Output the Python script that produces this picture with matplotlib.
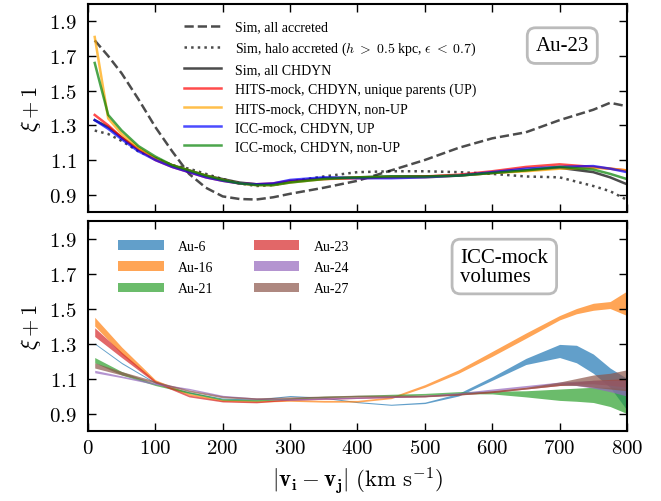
import matplotlib
matplotlib.use("Agg")
import matplotlib.pyplot as plt
from matplotlib.ticker import FuncFormatter
import numpy as np

plt.rcParams['font.family'] = ['Liberation Serif', 'DejaVu Serif']
plt.rcParams['mathtext.fontset'] = 'cm'

# ---- top panel: Au-23 correlation curves ----
x_top = [10, 30, 50, 75, 100, 125, 150, 175, 200, 225, 250, 275, 300,
         350, 400, 450, 500, 550, 600, 650, 700, 750, 775, 800]

sim_acc = [1.79, 1.70, 1.60, 1.45, 1.29, 1.15, 1.02, 0.94, 0.89, 0.875, 0.872, 0.885, 0.905,
           0.94, 0.98, 1.04, 1.10, 1.17, 1.225, 1.26, 1.33, 1.39, 1.43, 1.41]
sim_halo = [1.27, 1.25, 1.21, 1.15, 1.11, 1.07, 1.05, 1.02, 0.99, 0.965, 0.95, 0.955, 0.975,
            1.005, 1.03, 1.035, 1.035, 1.03, 1.02, 1.005, 1.0, 0.95, 0.92, 0.87]
sim_chdyn = [1.33, 1.29, 1.23, 1.16, 1.11, 1.07, 1.04, 1.01, 0.99, 0.97, 0.96, 0.96, 0.975,
             0.995, 1.0, 1.005, 1.005, 1.01, 1.025, 1.04, 1.055, 1.03, 1.0, 0.96]
hits_up = [1.36, 1.30, 1.23, 1.16, 1.10, 1.06, 1.03, 1.0, 0.98, 0.965, 0.96, 0.965, 0.98,
           0.99, 0.995, 1.0, 1.005, 1.015, 1.035, 1.06, 1.075, 1.06, 1.05, 1.04]
hits_nonup = [1.81, 1.34, 1.25, 1.17, 1.11, 1.07, 1.04, 1.01, 0.985, 0.965, 0.955, 0.955, 0.97,
              0.99, 1.0, 1.0, 1.0, 1.01, 1.025, 1.035, 1.05, 1.055, 1.05, 1.04]
icc_up = [1.33, 1.28, 1.22, 1.15, 1.10, 1.06, 1.03, 1.0, 0.98, 0.965, 0.96, 0.965, 0.985,
          1.0, 0.995, 0.995, 1.0, 1.01, 1.03, 1.05, 1.06, 1.065, 1.05, 1.03]
icc_nonup = [1.66, 1.36, 1.27, 1.18, 1.12, 1.07, 1.04, 1.01, 0.985, 0.965, 0.955, 0.955, 0.97,
             0.99, 1.0, 1.005, 1.005, 1.01, 1.025, 1.04, 1.06, 1.045, 1.02, 0.99]

top_series = [
    (sim_acc, 'k', '--', 'Sim, all accreted'),
    (sim_halo, 'k', ':', r'Sim, halo accreted ($h\;>\;0.5$ kpc, $\epsilon\;<\;0.7$)'),
    (sim_chdyn, 'k', '-', 'Sim, all CHDYN'),
    (hits_up, 'red', '-', 'HITS-mock, CHDYN, unique parents (UP)'),
    (hits_nonup, 'orange', '-', 'HITS-mock, CHDYN, non-UP'),
    (icc_up, 'blue', '-', 'ICC-mock, CHDYN, UP'),
    (icc_nonup, 'green', '-', 'ICC-mock, CHDYN, non-UP'),
]

# ---- bottom panel: ICC-mock volume bands (lower, upper) ----
x_bot = [10, 50, 100, 150, 200, 250, 300, 350, 400, 450, 500, 550, 600,
         650, 700, 725, 750, 775, 800]

au6_lo = [1.297, 1.185, 1.072, 1.017, 0.982, 0.977, 0.997, 0.987, 0.962, 0.947, 0.957, 1.0, 1.09,
          1.18, 1.22, 1.19, 1.13, 1.05, 0.92]
au6_hi = [1.303, 1.192, 1.078, 1.023, 0.988, 0.983, 1.003, 0.993, 0.968, 0.953, 0.965, 1.015, 1.11,
          1.215, 1.295, 1.29, 1.24, 1.16, 1.10]
au16_lo = [1.40, 1.24, 1.077, 1.005, 0.97, 0.965, 0.97, 0.965, 0.965, 0.985, 1.05, 1.13, 1.227,
           1.33, 1.435, 1.47, 1.49, 1.50, 1.46]
au16_hi = [1.45, 1.28, 1.093, 1.015, 0.98, 0.975, 0.98, 0.975, 0.975, 0.995, 1.065, 1.15, 1.255,
           1.36, 1.46, 1.50, 1.53, 1.54, 1.60]
au21_lo = [1.19, 1.12, 1.06, 1.015, 0.976, 0.971, 0.981, 0.991, 0.996, 1.0, 1.005, 1.013, 1.012,
           0.995, 0.975, 0.97, 0.963, 0.94, 0.90]
au21_hi = [1.22, 1.14, 1.07, 1.025, 0.984, 0.979, 0.989, 0.999, 1.004, 1.01, 1.015, 1.025, 1.028,
           1.03, 1.04, 1.045, 1.05, 1.05, 1.04]
au23_lo = [1.34, 1.22, 1.075, 0.995, 0.966, 0.961, 0.976, 0.981, 0.986, 0.991, 0.996, 1.006, 1.02,
           1.04, 1.06, 1.068, 1.07, 1.062, 1.05]
au23_hi = [1.39, 1.25, 1.087, 1.005, 0.974, 0.969, 0.984, 0.989, 0.994, 0.999, 1.004, 1.014, 1.03,
           1.05, 1.072, 1.08, 1.09, 1.095, 1.10]
au24_lo = [1.133, 1.105, 1.065, 1.036, 0.996, 0.981, 0.976, 0.981, 0.986, 0.991, 0.996, 1.011, 1.03,
           1.05, 1.068, 1.06, 1.045, 1.025, 1.0]
au24_hi = [1.147, 1.115, 1.075, 1.044, 1.004, 0.989, 0.984, 0.989, 0.994, 0.999, 1.004, 1.019, 1.04,
           1.06, 1.08, 1.085, 1.09, 1.09, 1.09]
au27_lo = [1.16, 1.12, 1.075, 1.025, 0.99, 0.98, 0.985, 0.99, 0.995, 0.995, 0.995, 1.005, 1.02,
           1.04, 1.06, 1.06, 1.05, 1.04, 1.03]
au27_hi = [1.19, 1.14, 1.085, 1.035, 1.0, 0.99, 0.995, 1.0, 1.005, 1.005, 1.005, 1.015, 1.03,
           1.05, 1.08, 1.10, 1.12, 1.13, 1.15]

bands = [
    ('Au-6', au6_lo, au6_hi, 'tab:blue'),
    ('Au-16', au16_lo, au16_hi, 'tab:orange'),
    ('Au-21', au21_lo, au21_hi, 'tab:green'),
    ('Au-23', au23_lo, au23_hi, 'tab:red'),
    ('Au-24', au24_lo, au24_hi, 'tab:purple'),
    ('Au-27', au27_lo, au27_hi, 'tab:brown'),
]

yticks = [0.9, 1.1, 1.3, 1.5, 1.7, 1.9]
xticks = [0, 100, 200, 300, 400, 500, 600, 700, 800]

fig = plt.figure(figsize=(6.61, 5.02), dpi=100)
ax1 = fig.add_axes([0.1331, 0.5757, 0.8154, 0.4143])
ax2 = fig.add_axes([0.1331, 0.1394, 0.8154, 0.4183])

for vals, col, ls, lab in top_series:
    ax1.plot(x_top, vals, color=col, ls=ls, lw=1.8, alpha=0.7, label=lab)

for lab, lo, hi, col in bands:
    ax2.fill_between(x_bot, lo, hi, color=col, alpha=0.7, lw=0, label=lab)

for ax in (ax1, ax2):
    ax.set_xlim(0, 800)
    ax.set_ylim(0.8, 2.0)
    ax.set_xticks(xticks)
    ax.set_yticks(yticks)
    ax.tick_params(direction='in', top=True, right=True, length=5.5, width=1, labelsize=15)
    ax.tick_params(axis='y', pad=8)
    ax.tick_params(axis='x', pad=6)
    for sp in ax.spines.values():
        sp.set_linewidth(1.5)
    ax.yaxis.set_major_formatter(FuncFormatter(lambda v, p: f'${v:.1f}$'))
    ax.set_ylabel(r'$\xi+1$', fontsize=16)

ax1.tick_params(labelbottom=False)
ax2.xaxis.set_major_formatter(FuncFormatter(lambda v, p: f'${v:.0f}$'))
ax2.set_xlabel(r'$|\mathbf{v_i}-\mathbf{v_j}|\ (\mathrm{km\ s^{-1}})$', fontsize=16.5)

ax1.legend(loc='upper left', bbox_to_anchor=(0.178, 0.92), frameon=False, fontsize=10,
           handlelength=2.7, handletextpad=1.0, labelspacing=0.44, borderpad=0, borderaxespad=0)
ax2.legend(loc='upper left', bbox_to_anchor=(0.056, 0.911), frameon=False, fontsize=10, ncol=2,
           handlelength=3.3, handletextpad=1.0, labelspacing=0.6, columnspacing=2.9,
           borderpad=0, borderaxespad=0)

box = dict(boxstyle='round,pad=0.4', fc='white', ec='#bbbbbb', lw=2)
ax1.text(704, 1.76, 'Au-23', fontsize=15, ha='center', va='center', bbox=box)
ax2.text(618, 1.74, 'ICC-mock\nvolumes', fontsize=15, ha='center', va='center',
         multialignment='left', linespacing=1.0, bbox=box)

fig.savefig('out.png', dpi=100)
